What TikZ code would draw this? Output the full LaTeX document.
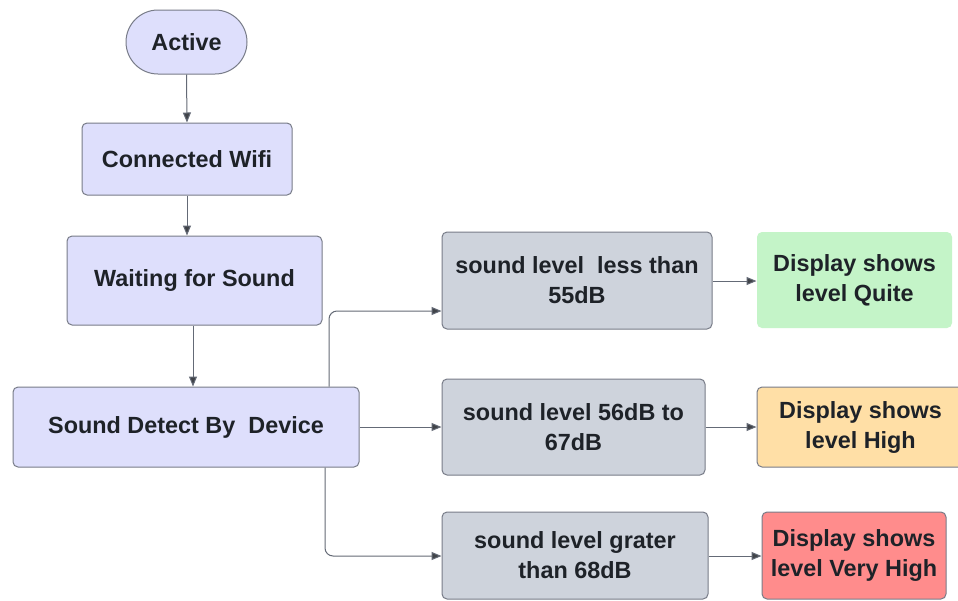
\documentclass[tikz,border=0pt]{standalone}
\usepackage{fontspec}
\setmainfont{Liberation Sans}
\usetikzlibrary{arrows.meta}
\definecolor{lav}{RGB}{222,223,252}
\definecolor{slate}{RGB}{206,211,220}
\definecolor{mint}{RGB}{196,244,200}
\definecolor{peach}{RGB}{255,223,166}
\definecolor{salmon}{RGB}{255,140,140}
\definecolor{edge}{RGB}{120,124,136}
\definecolor{wire}{RGB}{100,106,118}
\definecolor{ink}{RGB}{30,34,40}
\tikzset{
  x=1pt, y=-1pt,
  box/.style={draw=edge, line width=1pt, rounded corners=5pt, inner sep=0pt,
    align=center, text=ink, font=\fontsize{23.4}{30}\selectfont\bfseries},
  flow/.style={draw=wire, line width=1pt, rounded corners=8pt,
    -{Triangle[length=10pt,width=8pt,fill=ink!85]}},
}
\newcommand{\boxat}[6]{% name, x1, y1, x2, y2, style
  \node[#6, minimum width={#4-#2}, minimum height={#5-#3}] (#1) at ({(#2+#4)/2},{(#3+#5)/2})}
\begin{document}
\begin{tikzpicture}
\useasboundingbox (0,0) rectangle (958,600);
\fill[white] (0,0) rectangle (958,600);

% main column
\boxat{act}{126}{10}{247}{74}{box, fill=lav, rounded corners=32pt}{Active};
\boxat{wifi}{82}{123}{292}{195}{box, fill=lav}{Connected Wifi};
\boxat{wait}{67}{236}{322}{325}{box, fill=lav}{Waiting for Sound};
\boxat{det}{13}{387}{359}{467}{box, fill=lav}{Sound Detect By\ \ Device};

% sound level tests
\boxat{low}{442}{232}{712}{329}{box, fill=slate}{sound level\ \ less than\\55dB};
\boxat{mid}{442}{379}{705}{475}{box, fill=slate}{sound level 56dB to\\67dB};
\boxat{hig}{442}{512}{708}{599}{box, fill=slate}{sound level grater\\than 68dB};

% display results
\boxat{quiet}{757}{232}{952}{328}{box, draw=none, fill=mint}{Display shows\\level Quite};
\boxat{high}{757}{387}{964}{467}{box, fill=peach}{Display shows\\level High};
\boxat{vhigh}{762}{512}{946}{599}{box, fill=salmon}{Display shows\\level Very High};

% connectors
\draw[flow] (act.south) -- (wifi.north);
\draw[flow] (wifi.south) -- (wait.north -| wifi.south);
\draw[flow] (wait.south -| 193,0) -- (det.north -| 193,0);
\draw[flow] (det.north -| 329,0) |- (low.west |- 0,311);
\draw[flow] (det.east |- 0,427) -- (mid.west |- 0,427);
\draw[flow] (det.south -| 325,0) |- (hig.west |- 0,556);
\draw[flow] (low.east |- 0,281) -- (quiet.west |- 0,281);
\draw[flow] (mid.east |- 0,427) -- (high.west |- 0,427);
\draw[flow] (hig.east |- 0,556) -- (vhigh.west |- 0,556);
\end{tikzpicture}
\end{document}
